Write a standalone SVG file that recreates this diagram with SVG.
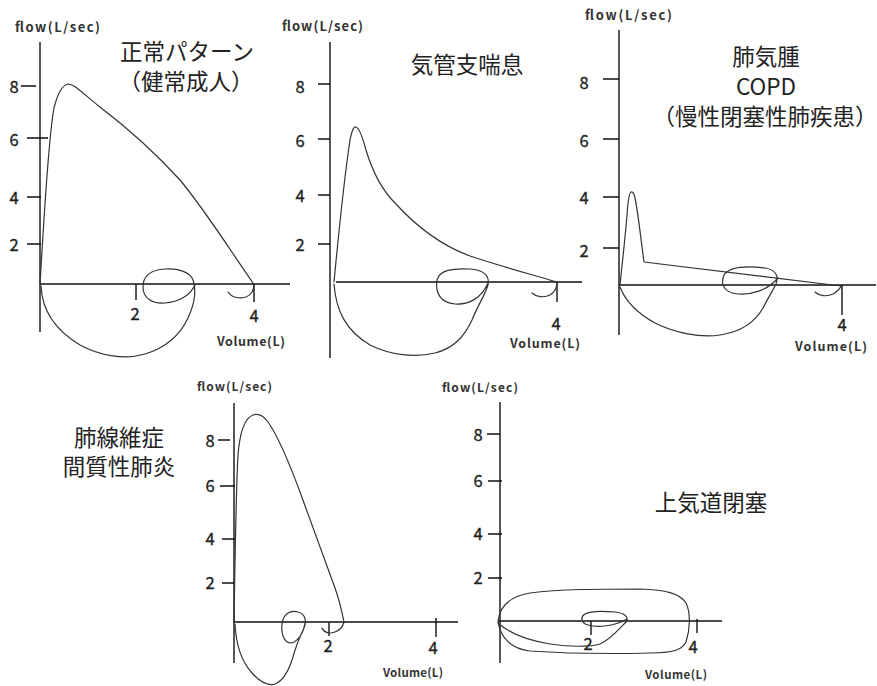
<svg xmlns="http://www.w3.org/2000/svg" width="877" height="686" viewBox="0 0 877 686">
<style>
.ax{stroke:#111;stroke-width:1.4;fill:none}
.cv{stroke:#333;stroke-width:1.2;fill:none;stroke-linecap:round;stroke-linejoin:round}
.lbl{font-family:"Noto Sans CJK JP","Noto Sans",sans-serif;font-weight:bold;fill:#333}
.num{font-family:"Noto Sans CJK JP","Noto Sans",sans-serif;font-size:16.5px;fill:#222;stroke:#222;stroke-width:0.35;text-anchor:middle}
.ttl{font-family:"Noto Sans CJK JP","Noto Sans",sans-serif;font-size:22.5px;fill:#222;text-anchor:middle}
</style>
<rect width="877" height="686" fill="#fff"/>

<g id="panel-normal">
<text class="lbl" x="15" y="32" font-size="13" textLength="85">flow(L/sec)</text>
<path class="ax" d="M40,42V332M40,284H290M21,86H36M27,138H48M27,197H41M27,244H41M136,284V300M254,284V302"/>
<text class="num" x="14" y="93">8</text>
<text class="num" x="14" y="146">6</text>
<text class="num" x="14" y="204">4</text>
<text class="num" x="14" y="251">2</text>
<text class="num" x="135" y="320">2</text>
<text class="num" x="254" y="322">4</text>
<text class="lbl" x="217" y="346" font-size="12.5" textLength="68">Volume(L)</text>
<text class="ttl" x="187" y="60">正常パターン</text>
<text class="ttl" x="186" y="90">（健常成人）</text>
<path class="cv" d="M40,284 C44,220 48,140 54,108 C58,92 63,85 68,84 C74,84 80,91 100,107 C130,130 160,158 180,180 C205,210 230,250 253,283"/>
<path class="cv" d="M41,286 C42,310 55,330 80,345 C100,356 125,360 145,354 C165,348 180,335 188,318 C194,305 197,292 193,280 C190,272 178,268 165,269 C150,270 143,276 143,287 C143,298 152,304 165,303 C178,302 190,296 195,285"/>
<path class="cv" d="M228,292 C232,298 240,299 246,297 C251,295 254,290 254,284"/>
</g>

<g id="panel-asthma">
<text class="lbl" x="282" y="31" font-size="13" textLength="81">flow(L/sec)</text>
<path class="ax" d="M330,42V358M336,282H582M318,84H330M318,139H330M318,195H330M318,244H330M557,282V302"/>
<text class="num" x="300" y="93">8</text>
<text class="num" x="300" y="147">6</text>
<text class="num" x="300" y="202">4</text>
<text class="num" x="300" y="251">2</text>
<text class="num" x="556" y="330">4</text>
<text class="lbl" x="510" y="348" font-size="12.5" textLength="70">Volume(L)</text>
<text class="ttl" x="467" y="73">気管支喘息</text>
<path class="cv" d="M334,282 C338,240 344,180 350,140 C352,130 354,126 356,127 C359,128 362,135 366,150 C372,170 380,188 395,203 C415,225 440,245 470,256 C500,266 530,274 557,282"/>
<path class="cv" d="M334,284 C336,310 345,330 370,345 C390,355 415,358 435,353 C455,348 465,335 472,320 C478,305 485,295 488,285 C490,275 483,270 470,269 C452,268 440,270 437,280 C435,292 440,303 455,304 C470,305 482,297 488,283"/>
<path class="cv" d="M532,293 C536,297 544,298 550,295 C555,292 557,287 557,282"/>
</g>

<g id="panel-copd">
<text class="lbl" x="585" y="20" font-size="13" textLength="87">flow(L/sec)</text>
<path class="ax" d="M619,30V335M619,285H876M603,79H619M603,139H619M603,197H619M603,248H619M842,285V315"/>
<text class="num" x="584" y="89">8</text>
<text class="num" x="584" y="147">6</text>
<text class="num" x="584" y="204">4</text>
<text class="num" x="584" y="257">2</text>
<text class="num" x="842" y="331">4</text>
<text class="lbl" x="795" y="351" font-size="12.5" textLength="72">Volume(L)</text>
<text class="ttl" x="766" y="65">肺気腫</text>
<text class="ttl" x="766" y="95">COPD</text>
<text class="ttl" x="765" y="125" font-size="21">（慢性閉塞性肺疾患）</text>
<path class="cv" d="M620,285 C622,265 625,240 627,215 C628,200 629,193 631,192 C633,191 634,194 635,198 C638,212 641,240 644,262 L841,286"/>
<path class="cv" d="M620,287 C625,300 635,312 655,323 C675,333 700,338 720,335 C740,332 755,322 763,308 C768,298 772,292 776,284 C779,276 776,270 765,268 C748,266 730,266 724,275 C720,284 724,293 738,294 C752,295 768,290 778,278"/>
<path class="cv" d="M815,292 C819,296 827,297 833,294 C838,291 840,289 841,286"/>
</g>

<g id="panel-fibrosis">
<text class="lbl" x="197" y="391" font-size="12" textLength="75">flow(L/sec)</text>
<path class="ax" d="M234,403V663M234,622H458M218,440H230M220,486H235M222,539H235M222,583H235M329,622V636M436,618V637"/>
<text class="num" x="210" y="447">8</text>
<text class="num" x="210" y="492">6</text>
<text class="num" x="210" y="545">4</text>
<text class="num" x="210" y="589">2</text>
<text class="num" x="328" y="652">2</text>
<text class="num" x="433" y="654">4</text>
<text class="lbl" x="383" y="677" font-size="11.5" textLength="60">Volume(L)</text>
<text class="ttl" x="119" y="446">肺線維症</text>
<text class="ttl" x="119" y="475">間質性肺炎</text>
<path class="cv" d="M234,622 C235,560 236,490 238,455 C240,430 245,418 253,415 C258,413 263,415 268,422 C278,436 290,465 300,492 C312,525 325,560 335,588 C340,602 342,612 344,622"/>
<path class="cv" d="M235,624 C236,645 242,662 252,673 C260,682 268,686 275,684 C283,681 288,672 292,660 C296,646 300,636 304,628 C307,620 305,614 298,612 C290,610 283,614 282,624 C281,634 284,643 291,643 C298,642 304,632 305,623"/>
<path class="cv" d="M322,628 C324,633 330,634 335,632 C340,630 343,626 344,622"/>
</g>

<g id="panel-upper-airway">
<text class="lbl" x="442" y="392" font-size="12" textLength="76">flow(L/sec)</text>
<path class="ax" d="M500,402V663M498,621H722M487,434H500M488,481H502M488,534H502M488,578H502M591,621V635M697,619V633"/>
<text class="num" x="478" y="441">8</text>
<text class="num" x="478" y="487">6</text>
<text class="num" x="478" y="540">4</text>
<text class="num" x="478" y="584">2</text>
<text class="num" x="588" y="650">2</text>
<text class="num" x="693" y="653">4</text>
<text class="lbl" x="645" y="679" font-size="11.5" textLength="62">Volume(L)</text>
<text class="ttl" x="711" y="511">上気道閉塞</text>
<path class="cv" d="M498,621 C500,605 512,596 530,593 C560,589 600,589 640,589 C665,590 680,593 686,603 C691,613 690,630 686,642 C682,650 673,653 650,653 C610,654 560,653 530,651 C512,649 500,638 498,621 Z"/>
<path class="cv" d="M498,623 C508,632 525,640 550,644 C570,647 590,647 600,644 C610,640 620,628 627,621 C628,616 624,613 615,612 C603,611 590,611 585,614 C580,617 581,623 588,625 C598,628 615,626 627,619"/>
</g>
</svg>
